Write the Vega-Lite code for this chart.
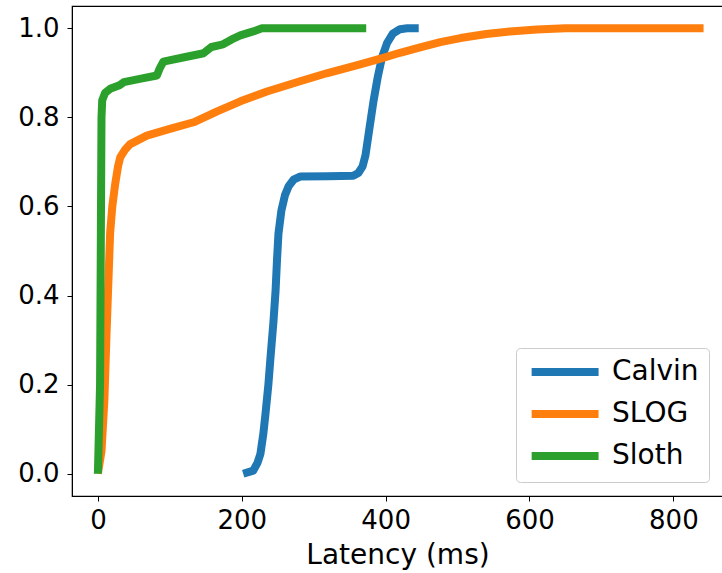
{
  "$schema": "https://vega.github.io/schema/vega-lite/v6.json",
  "autosize": {"type": "none"},
  "width": 651,
  "height": 490,
  "padding": {"left": 72, "top": 6, "right": 0, "bottom": 77},
  "background": "white",
  "config": {
    "font": "DejaVu Sans",
    "view": {"stroke": "black", "strokeWidth": 1.2},
    "axis": {
      "grid": false,
      "domainColor": "black",
      "tickColor": "black",
      "tickSize": 5,
      "labelColor": "black",
      "titleColor": "black",
      "labelFont": "DejaVu Sans",
      "titleFont": "DejaVu Sans",
      "labelFontSize": 26,
      "titleFontSize": 28,
      "titleFontWeight": "normal"
    }
  },
  "data": {
    "values": [
      {"latency": 202, "cdf": 0.0, "system": "Calvin"},
      {"latency": 216, "cdf": 0.007, "system": "Calvin"},
      {"latency": 222, "cdf": 0.025, "system": "Calvin"},
      {"latency": 226, "cdf": 0.045, "system": "Calvin"},
      {"latency": 230, "cdf": 0.09, "system": "Calvin"},
      {"latency": 233, "cdf": 0.135, "system": "Calvin"},
      {"latency": 237, "cdf": 0.2, "system": "Calvin"},
      {"latency": 240, "cdf": 0.262, "system": "Calvin"},
      {"latency": 244, "cdf": 0.34, "system": "Calvin"},
      {"latency": 247, "cdf": 0.411, "system": "Calvin"},
      {"latency": 249, "cdf": 0.48, "system": "Calvin"},
      {"latency": 251, "cdf": 0.539, "system": "Calvin"},
      {"latency": 255, "cdf": 0.59, "system": "Calvin"},
      {"latency": 260, "cdf": 0.625, "system": "Calvin"},
      {"latency": 265, "cdf": 0.645, "system": "Calvin"},
      {"latency": 272, "cdf": 0.66, "system": "Calvin"},
      {"latency": 281, "cdf": 0.667, "system": "Calvin"},
      {"latency": 320, "cdf": 0.668, "system": "Calvin"},
      {"latency": 355, "cdf": 0.669, "system": "Calvin"},
      {"latency": 362, "cdf": 0.675, "system": "Calvin"},
      {"latency": 368, "cdf": 0.69, "system": "Calvin"},
      {"latency": 372, "cdf": 0.715, "system": "Calvin"},
      {"latency": 377, "cdf": 0.77, "system": "Calvin"},
      {"latency": 383, "cdf": 0.835, "system": "Calvin"},
      {"latency": 389, "cdf": 0.89, "system": "Calvin"},
      {"latency": 395, "cdf": 0.935, "system": "Calvin"},
      {"latency": 402, "cdf": 0.967, "system": "Calvin"},
      {"latency": 410, "cdf": 0.988, "system": "Calvin"},
      {"latency": 420, "cdf": 0.998, "system": "Calvin"},
      {"latency": 430, "cdf": 1.0, "system": "Calvin"},
      {"latency": 446, "cdf": 1.0, "system": "Calvin"},
      {"latency": 0, "cdf": 0.0, "system": "SLOG"},
      {"latency": 5, "cdf": 0.05, "system": "SLOG"},
      {"latency": 9, "cdf": 0.165, "system": "SLOG"},
      {"latency": 12, "cdf": 0.314, "system": "SLOG"},
      {"latency": 15, "cdf": 0.45, "system": "SLOG"},
      {"latency": 17, "cdf": 0.54, "system": "SLOG"},
      {"latency": 20, "cdf": 0.6, "system": "SLOG"},
      {"latency": 24, "cdf": 0.65, "system": "SLOG"},
      {"latency": 28, "cdf": 0.69, "system": "SLOG"},
      {"latency": 31, "cdf": 0.71, "system": "SLOG"},
      {"latency": 38, "cdf": 0.728, "system": "SLOG"},
      {"latency": 45, "cdf": 0.74, "system": "SLOG"},
      {"latency": 68, "cdf": 0.759, "system": "SLOG"},
      {"latency": 100, "cdf": 0.774, "system": "SLOG"},
      {"latency": 133, "cdf": 0.789, "system": "SLOG"},
      {"latency": 165, "cdf": 0.813, "system": "SLOG"},
      {"latency": 198, "cdf": 0.836, "system": "SLOG"},
      {"latency": 235, "cdf": 0.858, "system": "SLOG"},
      {"latency": 281, "cdf": 0.881, "system": "SLOG"},
      {"latency": 318, "cdf": 0.899, "system": "SLOG"},
      {"latency": 362, "cdf": 0.918, "system": "SLOG"},
      {"latency": 393, "cdf": 0.932, "system": "SLOG"},
      {"latency": 420, "cdf": 0.945, "system": "SLOG"},
      {"latency": 448, "cdf": 0.957, "system": "SLOG"},
      {"latency": 476, "cdf": 0.969, "system": "SLOG"},
      {"latency": 504, "cdf": 0.978, "system": "SLOG"},
      {"latency": 540, "cdf": 0.987, "system": "SLOG"},
      {"latency": 573, "cdf": 0.993, "system": "SLOG"},
      {"latency": 610, "cdf": 0.997, "system": "SLOG"},
      {"latency": 650, "cdf": 1.0, "system": "SLOG"},
      {"latency": 842, "cdf": 1.0, "system": "SLOG"},
      {"latency": 0, "cdf": 0.0, "system": "Sloth"},
      {"latency": 3, "cdf": 0.2, "system": "Sloth"},
      {"latency": 4, "cdf": 0.5, "system": "Sloth"},
      {"latency": 5, "cdf": 0.8, "system": "Sloth"},
      {"latency": 6, "cdf": 0.838, "system": "Sloth"},
      {"latency": 10, "cdf": 0.855, "system": "Sloth"},
      {"latency": 17, "cdf": 0.864, "system": "Sloth"},
      {"latency": 30, "cdf": 0.872, "system": "Sloth"},
      {"latency": 36, "cdf": 0.879, "system": "Sloth"},
      {"latency": 60, "cdf": 0.887, "system": "Sloth"},
      {"latency": 82, "cdf": 0.894, "system": "Sloth"},
      {"latency": 86, "cdf": 0.91, "system": "Sloth"},
      {"latency": 91, "cdf": 0.925, "system": "Sloth"},
      {"latency": 120, "cdf": 0.935, "system": "Sloth"},
      {"latency": 147, "cdf": 0.944, "system": "Sloth"},
      {"latency": 158, "cdf": 0.958, "system": "Sloth"},
      {"latency": 174, "cdf": 0.964, "system": "Sloth"},
      {"latency": 186, "cdf": 0.975, "system": "Sloth"},
      {"latency": 198, "cdf": 0.984, "system": "Sloth"},
      {"latency": 216, "cdf": 0.993, "system": "Sloth"},
      {"latency": 228, "cdf": 1.0, "system": "Sloth"},
      {"latency": 373, "cdf": 1.0, "system": "Sloth"}
    ]
  },
  "mark": {"type": "line", "strokeWidth": 8, "strokeCap": "butt", "strokeJoin": "round", "clip": true},
  "encoding": {
    "x": {
      "field": "latency",
      "type": "quantitative",
      "scale": {"domain": [-36, 869], "nice": false, "zero": false},
      "axis": {"values": [0, 200, 400, 600, 800], "title": "Latency (ms)", "labelPadding": 6, "titlePadding": 8, "labelFlush": false}
    },
    "y": {
      "field": "cdf",
      "type": "quantitative",
      "scale": {"domain": [-0.05, 1.05], "nice": false, "zero": false},
      "axis": {"values": [0, 0.2, 0.4, 0.6, 0.8, 1.0], "format": ".1f", "title": null, "labelPadding": 8}
    },
    "color": {
      "field": "system",
      "type": "nominal",
      "scale": {"domain": ["Calvin", "SLOG", "Sloth"], "range": ["#1f77b4", "#ff7f0e", "#2ca02c"]},
      "legend": {
        "title": null,
        "orient": "none",
        "legendX": 444,
        "legendY": 342,
        "symbolType": "M-1,0H7",
        "symbolSize": 280,
        "symbolStrokeWidth": 8,
        "labelOffset": 58,
        "labelFontSize": 28,
        "labelFont": "DejaVu Sans",
        "labelColor": "black",
        "rowPadding": 10,
        "fillColor": "white",
        "strokeColor": "#cccccc",
        "cornerRadius": 4,
        "padding": 10
      }
    }
  }
}
